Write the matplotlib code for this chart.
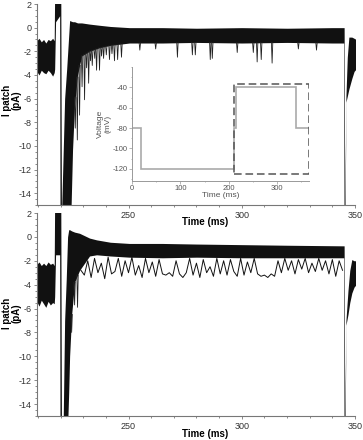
import numpy as np
import matplotlib
matplotlib.use("Agg")
import matplotlib.pyplot as plt
from matplotlib.ticker import MultipleLocator
from matplotlib.patches import Rectangle

plt.rcParams['font.family'] = ['Liberation Sans', 'DejaVu Sans']
plt.rcParams['axes.unicode_minus'] = False

# === Top panel: envelope of the overlaid sweeps (ms, pA) ===
top_t = [209.5, 210.5, 211.5, 212.5, 213.5, 214.5, 215.5, 216.5, 217.2, 217.4,
         217.8, 219.6, 219.8, 220.1, 220.4, 221.8, 222.7, 224.0, 225.3, 226.2,
         227.5, 229.3, 232.8, 237.2, 242.0, 250.4, 265.0, 280.0, 300.0, 320.0,
         340.0, 345.0, 345.2, 345.5, 346.0, 346.6, 347.3, 348.6, 349.6, 350.5]
top_hi = [-1.1, -0.9, -1.2, -1.0, -1.3, -1.0, -1.1, -0.9, -1.1, 3.0,
          3.0, 3.0, 3.0, 3.0, -16.0, -6.0, -3.5, 0.6, 0.5, 0.5,
          0.4, 0.4, 0.3, 0.2, 0.1, 0.0, 0.0, -0.05, 0.0, -0.05,
          0.0, 0.0, 0.0, -16.0, -5.8, -2.5, -0.8, -0.8, -0.9, -1.0]
top_lo = [-3.7, -4.0, -3.6, -3.8, -3.9, -3.6, -3.8, -4.1, -3.8, -3.5,
          0.5, 1.0, -20, -20, -20, -20, -20, -20, -10.3, -6.5,
          -4.0, -2.4, -2.0, -1.7, -1.5, -1.3, -1.3, -1.25, -1.3, -1.25,
          -1.3, -1.3, -20, -20, -6.3, -5.8, -5.2, -4.3, -3.7, -3.5]

# single-channel openings seen as downward spikes
top_spk_t = [226.5, 227.4, 228.4, 229.5, 230.6, 231.5, 232.4, 233.2, 234.0, 235.1,
             235.9, 237.2, 238.1, 239.0, 240.2, 241.6, 242.7, 243.8, 245.2, 246.9,
             255.0, 262.0, 271.6, 278.2, 279.5, 286.1, 287.0, 298.0, 305.1, 306.8,
             308.6, 313.4, 325.0, 333.0]
top_spk_v = [-8.5, -9.5, -7.4, -5.0, -6.1, -3.4, -4.7, -2.8, -3.2, -2.6,
             -3.6, -3.6, -2.4, -2.6, -2.3, -2.7, -2.2, -2.8, -2.7, -2.5,
             -1.9, -1.8, -2.5, -2.3, -2.3, -2.7, -2.6, -2.1, -2.1, -2.9,
             -2.7, -3.0, -1.8, -1.9]

# === Bottom panel ===
bot_t = [209.5, 210.5, 211.5, 212.5, 213.5, 214.5, 215.5, 216.5, 217.2, 217.4,
         217.8, 219.6, 219.8, 220.1, 220.4, 221.2, 221.8, 222.5, 223.1, 223.6,
         224.0, 224.9, 226.2, 228.4, 230.6, 232.8, 235.9, 242.0, 250.4, 265.0,
         280.0, 300.0, 320.0, 345.0, 345.2, 345.5, 346.0, 346.9, 347.7, 348.6,
         349.6, 350.5]
bot_hi = [-2.3, -2.1, -2.4, -2.2, -2.4, -2.1, -2.3, -2.2, -2.4, 3.0,
          3.0, 3.0, 3.0, 3.0, -16.0, -15.0, -7.0, -3.6, 0.0, 0.6,
          0.6, 0.5, 0.4, 0.3, 0.1, -0.1, -0.25, -0.45, -0.55, -0.55,
          -0.6, -0.65, -0.7, -0.75, -0.75, -16.0, -7.0, -4.5, -2.8, -1.9,
          -2.0, -2.0]
bot_lo = [-5.4, -5.8, -5.3, -5.6, -5.9, -5.4, -5.7, -5.5, -5.6, -5.0,
          -1.5, -1.5, -20, -20, -20, -20, -20, -20, -16, -13,
          -10.0, -6.5, -3.8, -2.8, -2.2, -1.6, -1.5, -1.6, -1.7, -1.75,
          -1.7, -1.75, -1.75, -1.75, -20, -20, -7.4, -6.5, -5.5, -4.7,
          -4.2, -4.0]

bot_spk_t = [224.9, 226.2, 227.5]
bot_spk_v = [-8.0, -5.7, -5.9]

# sweep with frequent openings, sampled every 1.5 ms from 229 ms
open_t0, open_dt = 229.0, 1.5
open_v = [-2.8, -3.2, -2.0, -3.4, -1.8, -3.0, -2.2, -3.5, -1.7, -3.1,
          -2.9, -1.8, -3.3, -2.0, -3.0, -1.7, -3.2, -2.4, -3.4, -1.8,
          -3.0, -2.1, -3.3, -1.9, -3.1, -3.2, -3.0, -3.3, -2.0, -3.1,
          -3.4, -3.0, -1.8, -3.2, -2.2, -3.4, -1.9, -3.0, -2.5, -3.3,
          -1.8, -3.1, -2.0, -3.2, -1.9, -2.9, -3.3, -1.8, -3.2, -2.1,
          -3.0, -1.8, -3.1, -3.3, -3.2, -3.4, -3.1, -3.3, -2.0, -3.0,
          -1.8, -2.8, -2.0, -3.1, -1.9, -2.7, -1.8, -3.0, -2.2, -2.9,
          -1.8, -2.8, -2.0, -3.1, -1.9, -3.3, -2.0, -2.8]

# === Inset: voltage protocol ===
step_edges = [0, 18, 211, 216, 339, 365]
step_mV = [-80, -120, -80, -40, -80]
box_t = (210, 365)
box_mV = (-125, -37)

W, H = 363, 440
fig = plt.figure(figsize=(W / 100, H / 100), dpi=100)
ax1 = fig.add_axes([37 / W, 1 - 205 / H, 318 / W, 201 / H])
ax2 = fig.add_axes([37 / W, 1 - 416 / H, 318 / W, 203 / H])


def trace_panel(ax, t, hi, lo, spk_t, spk_v):
    ax.fill_between(t, lo, hi, color='#111111', lw=0)
    for st, sv in zip(spk_t, spk_v):
        base = np.interp(st, t, lo)
        ax.plot([st - 0.3, st, st + 0.3], [base, sv, base], color='#222222', lw=0.6)
    ax.set_xlim(209.6, 350.0)
    ax.set_ylim(-15, 2)
    ax.xaxis.set_major_locator(MultipleLocator(50))
    ax.xaxis.set_minor_locator(MultipleLocator(10))
    ax.yaxis.set_major_locator(MultipleLocator(2))
    ax.yaxis.set_minor_locator(MultipleLocator(0.5))
    for s in ['top', 'right']:
        ax.spines[s].set_visible(False)
    for s in ['left', 'bottom']:
        ax.spines[s].set_color('#777777')
        ax.spines[s].set_linewidth(0.8)
    ax.tick_params(which='both', colors='#777777', labelcolor='#333333', labelsize=6.5, width=0.6)
    ax.tick_params(which='major', length=2.5, pad=1.5)
    ax.tick_params(which='minor', length=1.3)
    ax.patch.set_alpha(0)


trace_panel(ax1, top_t, top_hi, top_lo, top_spk_t, top_spk_v)
trace_panel(ax2, bot_t, bot_hi, bot_lo, bot_spk_t, bot_spk_v)
open_t = open_t0 + open_dt * np.arange(len(open_v))
ax2.plot(open_t, open_v, color='#111111', lw=0.7)

for yc in [100, 313]:
    fig.text(12 / W, 1 - yc / H, 'I patch\n(pA)', rotation=90, ha='center', va='center',
             fontsize=7, fontweight='bold', linespacing=0.95)
for yc in [222, 434]:
    fig.text(205 / W, 1 - yc / H, 'Time (ms)', ha='center', va='center',
             fontsize=7, fontweight='bold')

# === Inset ===
ins = fig.add_axes([132 / W, 1 - 181 / H, 177 / W, 114 / H])
ins.patch.set_alpha(0)
ins.stairs(step_mV, step_edges, baseline=None, color='#aaaaaa', lw=1.2)
ins.add_patch(Rectangle((box_t[0], box_mV[0]), box_t[1] - box_t[0], box_mV[1] - box_mV[0],
                        fill=False, ec='#555555', lw=1.1, ls=(0, (5, 2.5))))
ins.set_xlim(0, 366)
ins.set_ylim(-132, -20)
ins.xaxis.set_major_locator(MultipleLocator(100))
ins.xaxis.set_minor_locator(MultipleLocator(50))
ins.yaxis.set_minor_locator(MultipleLocator(10))
ins.set_yticks([-40, -60, -80, -100, -120])
for s in ['top', 'right']:
    ins.spines[s].set_visible(False)
for s in ['left', 'bottom']:
    ins.spines[s].set_color('#999999')
    ins.spines[s].set_linewidth(0.7)
ins.tick_params(which='both', colors='#999999', labelcolor='#555555', labelsize=5.5, width=0.5)
ins.tick_params(which='major', length=2, pad=1)
ins.tick_params(which='minor', length=1)
ins.set_xlabel('Time (ms)', fontsize=6, color='#555555', labelpad=0)
ins.set_ylabel('Voltage\n(mV)', fontsize=6, color='#555555', labelpad=1, linespacing=1.0)

fig.savefig('out.png', dpi=100)
